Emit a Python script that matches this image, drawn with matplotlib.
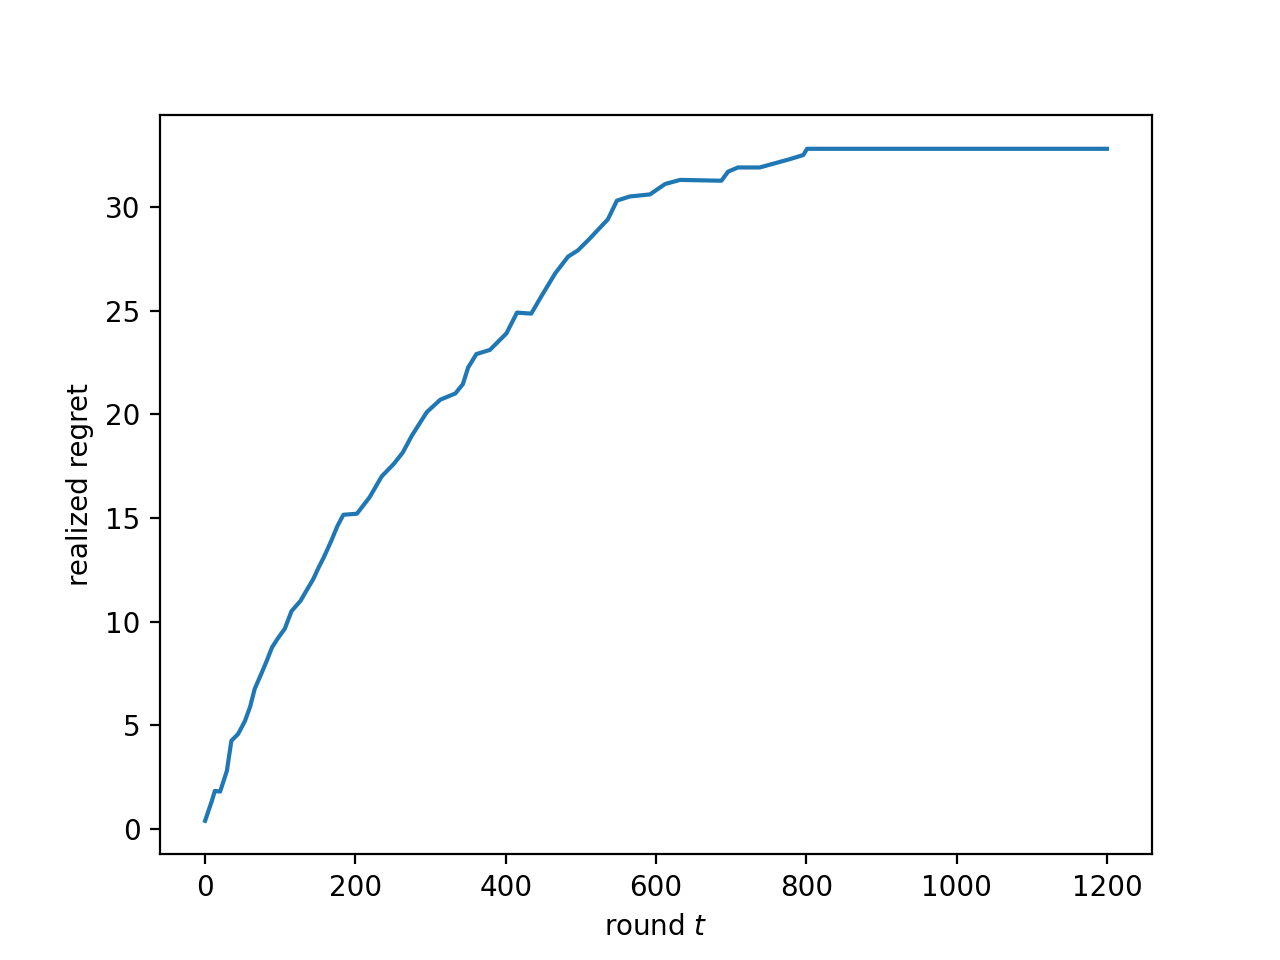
import matplotlib
matplotlib.use("Agg")
import matplotlib.pyplot as plt

# values
rounds = [0, 9, 13, 20, 29, 35, 44, 53, 60, 66, 75, 82, 89, 97, 106, 115, 127, 135, 144, 151,
          158, 168, 176, 184, 202, 219, 235, 251, 263, 275, 295, 313, 333, 343, 350, 361, 379,
          401, 415, 434, 446, 466, 483, 496, 510, 523, 536, 548, 565, 592, 612, 632, 687, 696,
          709, 738, 758, 778, 796, 801, 1200]
regret = [0.39, 1.35, 1.83, 1.8, 2.8, 4.25, 4.58, 5.2, 5.9, 6.75, 7.5, 8.1, 8.75, 9.2, 9.65,
          10.5, 11.0, 11.5, 12.05, 12.6, 13.1, 13.9, 14.6, 15.15, 15.2, 16.0, 17.0, 17.6, 18.15,
          18.96, 20.1, 20.7, 21.0, 21.45, 22.25, 22.9, 23.1, 23.9, 24.9, 24.85, 25.6, 26.8,
          27.6, 27.9, 28.4, 28.9, 29.4, 30.3, 30.5, 30.6, 31.1, 31.3, 31.26, 31.7, 31.9, 31.9,
          32.1, 32.3, 32.5, 32.8, 32.8]

fig, ax = plt.subplots(figsize=(6.4, 4.8), dpi=200)
ax.plot(rounds, regret)
ax.set_xlabel("round $t$")
ax.set_ylabel("realized regret")
fig.savefig("out.png")
